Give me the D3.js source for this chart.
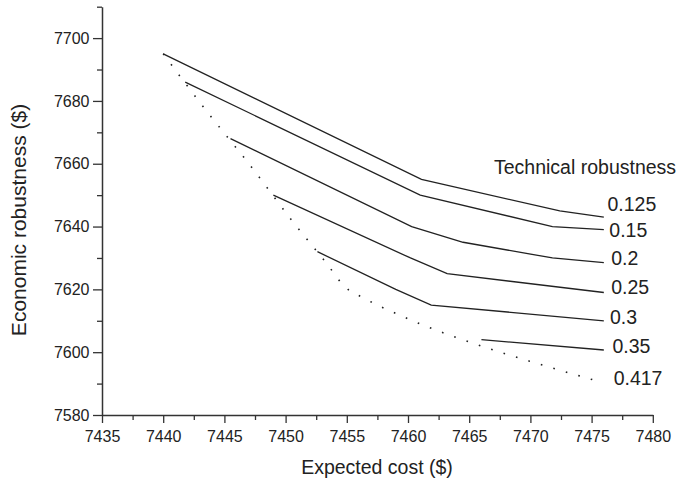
<!DOCTYPE html>
<html>
<head>
  <meta charset="utf-8">
  <script src="https://cdn.jsdelivr.net/npm/d3@7/dist/d3.min.js"></script>
  <style>
    body { margin: 0; background: #fff; }
    text { font-family: "Liberation Sans", Arial, Helvetica, sans-serif; fill: #222; }
  </style>
</head>
<body>
  <svg id="chart" width="683" height="482"></svg>
  <script>
    // 技术鲁棒性水平 (每条曲线一个)
    var techLevels = ["0.125", "0.15", "0.2", "0.25", "0.3", "0.35", "0.417"];

    // 期望成本 (x) 与经济鲁棒性 (y)
    var costs = [
      [7440, 7461.1, 7472.4, 7476],
      [7441.8, 7461, 7471.8, 7476],
      [7445.5, 7460.3, 7464.5, 7471.8, 7476],
      [7449, 7460.2, 7463.2, 7476],
      [7452.6, 7459, 7461.9, 7476],
      [7466, 7476],
      [7440, 7443.5, 7447, 7450.5, 7453.4, 7454.8, 7456.5, 7459.2, 7461, 7465.5, 7470.9, 7475.3]
    ];
    var robust = [
      [7695, 7655, 7645, 7643],
      [7686, 7650, 7640, 7639],
      [7668, 7640, 7635, 7630, 7628.5],
      [7650, 7630, 7625, 7619],
      [7632, 7620, 7615, 7610],
      [7604, 7600.7],
      [7695, 7677, 7660, 7642, 7628, 7621, 7617, 7612, 7609, 7602.6, 7596, 7591]
    ];

    // 标签位置 (数据单位)
    var labelCost = [7476.3, 7476.45, 7476.6, 7476.6, 7476.5, 7476.7, 7476.8];
    var labelRob = [7645.1, 7636.8, 7627.8, 7618.6, 7609.1, 7599.7, 7589.6];

    // 刻度
    var xMajor = d3.range(7435, 7481, 5);
    var xMinor = d3.range(7437.5, 7480, 5);
    var yMajor = d3.range(7580, 7701, 20);
    var yMinor = d3.range(7590, 7711, 20);

    var svg = d3.select("#chart");

    var x = d3.scaleLinear().domain([7435, 7480]).range([102, 652.8]);
    var y = d3.scaleLinear().domain([7580, 7710]).range([415, 6.7]);

    // 次刻度
    svg.append("g")
      .attr("transform", "translate(0,415)")
      .call(d3.axisBottom(x).tickValues(xMinor).tickSize(5).tickFormat(""))
      .call(function(g) { g.select(".domain").remove(); });
    svg.append("g")
      .attr("transform", "translate(102,0)")
      .call(d3.axisLeft(y).tickValues(yMinor).tickSize(5).tickFormat(""))
      .call(function(g) { g.select(".domain").remove(); });

    // 主刻度
    svg.append("g")
      .attr("transform", "translate(0,415)")
      .call(d3.axisBottom(x).tickValues(xMajor).tickSize(8).tickSizeOuter(0).tickPadding(7.5).tickFormat(d3.format("d")));
    svg.append("g")
      .attr("transform", "translate(102,0)")
      .call(d3.axisLeft(y).tickValues(yMajor).tickSize(9).tickSizeOuter(0).tickPadding(3.5).tickFormat(d3.format("d")));

    svg.selectAll(".tick line").attr("stroke", "#333").attr("stroke-width", 1.3);
    svg.selectAll(".domain").attr("stroke", "#333").attr("stroke-width", 1.5);
    svg.selectAll(".tick text").style("font-size", "16px").attr("fill", "#222");

    // 曲线
    var line = d3.line()
      .x(function(d) { return x(d[0]); })
      .y(function(d) { return y(d[1]); });

    techLevels.forEach(function(t, i) {
      var pts = costs[i].map(function(c, j) { return [c, robust[i][j]]; });
      var path = svg.append("path")
        .datum(pts)
        .attr("d", line)
        .attr("fill", "none")
        .attr("stroke", "#222")
        .attr("stroke-width", 1.3);
      if (t === "0.417") {
        path.attr("d", line.curve(d3.curveMonotoneX))
          .attr("stroke-width", 1.6)
          .attr("stroke-dasharray", "1.6,11.4");
        line.curve(d3.curveLinear);
      }
    });

    // 曲线标签
    svg.selectAll(".lbl")
      .data(techLevels)
      .enter()
      .append("text")
      .attr("class", "lbl")
      .attr("x", function(d, i) { return x(labelCost[i]); })
      .attr("y", function(d, i) { return y(labelRob[i]); })
      .style("font-size", "19.5px")
      .text(function(d) { return d; });

    svg.append("text")
      .attr("x", 494)
      .attr("y", 174)
      .style("font-size", "19.5px")
      .text("Technical robustness");

    // 坐标轴标题
    svg.append("text")
      .attr("x", 377)
      .attr("y", 474)
      .attr("text-anchor", "middle")
      .style("font-size", "19.5px")
      .text("Expected cost ($)");

    svg.append("text")
      .attr("transform", "translate(26,220) rotate(-90)")
      .attr("text-anchor", "middle")
      .style("font-size", "21px")
      .text("Economic robustness ($)");
  </script>
</body>
</html>
